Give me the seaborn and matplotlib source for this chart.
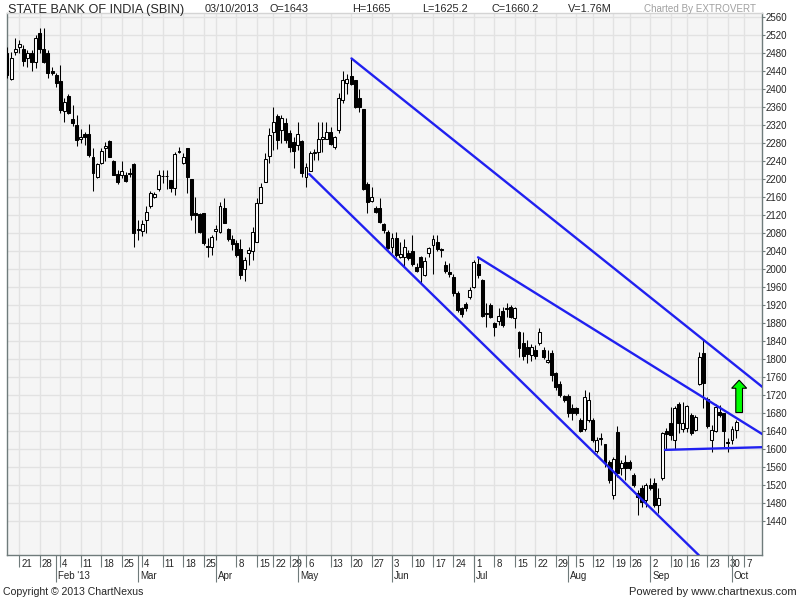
import numpy as np
import pandas as pd
import seaborn as sns
import matplotlib.pyplot as plt
import matplotlib.transforms as mtransforms
from matplotlib.patches import Polygon

# daily candles, SBIN 16 Jan 2013 - 03 Oct 2013
opens = [2479, 2422, 2483, 2494, 2490, 2470, 2481, 2459, 2524, 2490,
         2479, 2439, 2431, 2418, 2352, 2384, 2333, 2320, 2288, 2299,
         2301, 2250, 2205, 2235, 2268, 2284, 2241, 2211, 2209, 2209,
         2214, 2233, 2086, 2085, 2110, 2139, 2161, 2177, 2206, 2207,
         2198, 2179, 2263, 2236, 2268, 2199, 2125, 2122, 2124, 2051,
         2050, 2085, 2082, 2135, 2090, 2066, 2057, 2044, 1999, 2035,
         2039, 2061, 2147, 2194, 2251, 2305, 2340, 2309, 2324, 2302,
         2282, 2276, 2285, 2204, 2218, 2257, 2261, 2288, 2290, 2305,
         2272, 2309, 2376, 2413, 2429, 2419, 2379, 2355, 2190, 2152,
         2135, 2135, 2100, 2083, 2048, 2068, 2027, 2026, 2036, 2039,
         2004, 2027, 1987, 2035, 2053, 2061, 2045, 2009, 1994, 1983,
         1947, 1913, 1922, 1937, 1961, 2011, 1976, 1901, 1920, 1879,
         1885, 1907, 1914, 1916, 1890, 1861, 1836, 1826, 1809, 1821,
         1835, 1820, 1794, 1813, 1768, 1744, 1718, 1718, 1690, 1690,
         1665, 1644, 1664, 1664, 1596, 1623, 1611, 1572, 1498, 1638,
         1557, 1570, 1570, 1542, 1503, 1513, 1487, 1520, 1525, 1476,
         1535, 1639, 1658, 1621, 1699, 1644, 1646, 1676, 1642, 1744,
         1813, 1710, 1620, 1641, 1683, 1679, 1613, 1621, 1643]
highs = [2494, 2483, 2513, 2510, 2498, 2487, 2487, 2520, 2535, 2535,
         2487, 2450, 2435, 2453, 2379, 2389, 2364, 2342, 2311, 2305,
         2322, 2268, 2236, 2268, 2283, 2287, 2242, 2221, 2239, 2216,
         2224, 2236, 2109, 2109, 2139, 2174, 2172, 2220, 2220, 2220,
         2198, 2261, 2272, 2258, 2270, 2199, 2161, 2124, 2125, 2068,
         2076, 2098, 2148, 2157, 2092, 2076, 2064, 2067, 2027, 2050,
         2094, 2157, 2192, 2257, 2313, 2359, 2344, 2342, 2335, 2309,
         2293, 2327, 2287, 2235, 2263, 2266, 2327, 2327, 2327, 2315,
         2296, 2392, 2439, 2433, 2468, 2420, 2401, 2356, 2194, 2183,
         2139, 2157, 2102, 2087, 2081, 2083, 2061, 2066, 2042, 2076,
         2013, 2029, 2027, 2050, 2076, 2076, 2046, 2018, 2013, 1989,
         1950, 1916, 1927, 1961, 2020, 2026, 1977, 1924, 1924, 1883,
         1913, 1916, 1924, 1920, 1916, 1863, 1859, 1842, 1834, 1830,
         1868, 1827, 1820, 1820, 1772, 1750, 1720, 1722, 1701, 1694,
         1668, 1730, 1727, 1668, 1627, 1635, 1612, 1575, 1583, 1650,
         1575, 1587, 1576, 1546, 1509, 1520, 1525, 1535, 1535, 1513,
         1638, 1646, 1694, 1696, 1705, 1705, 1698, 1679, 1676, 1816,
         1844, 1716, 1653, 1701, 1698, 1681, 1624, 1651, 1665]
lows = [2424, 2420, 2476, 2479, 2452, 2450, 2439, 2446, 2481, 2458,
        2424, 2431, 2405, 2346, 2327, 2344, 2318, 2273, 2279, 2275,
        2250, 2174, 2203, 2233, 2239, 2248, 2209, 2190, 2202, 2194,
        2205, 2050, 2064, 2073, 2081, 2135, 2157, 2174, 2192, 2177,
        2172, 2164, 2257, 2234, 2170, 2110, 2079, 2079, 2053, 2026,
        2031, 2064, 2079, 2102, 2063, 2042, 2026, 1977, 1974, 2009,
        2020, 2061, 2146, 2194, 2235, 2264, 2266, 2279, 2279, 2261,
        2224, 2264, 2204, 2183, 2218, 2242, 2242, 2261, 2290, 2276,
        2266, 2303, 2370, 2389, 2409, 2357, 2350, 2176, 2125, 2150,
        2124, 2103, 2079, 2044, 2035, 2027, 2024, 2005, 2020, 2007,
        1994, 1970, 1985, 2027, 1990, 2039, 2027, 1992, 1983, 1939,
        1905, 1894, 1907, 1933, 1957, 1979, 1894, 1872, 1890, 1850,
        1876, 1872, 1894, 1890, 1868, 1805, 1797, 1790, 1795, 1801,
        1831, 1801, 1790, 1750, 1731, 1716, 1705, 1672, 1664, 1675,
        1638, 1641, 1661, 1616, 1590, 1609, 1561, 1524, 1488, 1538,
        1542, 1531, 1553, 1516, 1453, 1472, 1472, 1509, 1472, 1457,
        1531, 1601, 1620, 1601, 1635, 1638, 1638, 1631, 1641, 1742,
        1690, 1646, 1594, 1638, 1672, 1605, 1594, 1612, 1625.2]
closes = [2431, 2468, 2490, 2500, 2463, 2479, 2459, 2513, 2490, 2461,
          2435, 2435, 2413, 2353, 2372, 2347, 2325, 2287, 2294, 2294,
          2253, 2214, 2233, 2262, 2273, 2250, 2210, 2194, 2218, 2196,
          2212, 2079, 2088, 2100, 2127, 2168, 2167, 2208, 2207, 2206,
          2179, 2255, 2261, 2248, 2204, 2120, 2120, 2083, 2057, 2049,
          2072, 2090, 2139, 2103, 2066, 2056, 2031, 1987, 2021, 2042,
          2082, 2147, 2183, 2244, 2298, 2326, 2287, 2335, 2287, 2272,
          2263, 2299, 2213, 2227, 2257, 2259, 2290, 2293, 2305, 2278,
          2293, 2381, 2419, 2422, 2411, 2361, 2361, 2177, 2150, 2161,
          2127, 2105, 2087, 2046, 2068, 2031, 2033, 2048, 2024, 2011,
          1996, 2005, 2018, 2046, 2066, 2044, 2043, 1996, 1989, 1947,
          1909, 1900, 1913, 1953, 2016, 1987, 1896, 1902, 1894, 1872,
          1896, 1876, 1912, 1893, 1913, 1825, 1807, 1811, 1827, 1807,
          1859, 1804, 1798, 1765, 1738, 1720, 1709, 1679, 1681, 1681,
          1641, 1715, 1709, 1620, 1620, 1625, 1568, 1531, 1577, 1546,
          1568, 1557, 1557, 1520, 1494, 1483, 1520, 1513, 1476, 1492,
          1636, 1633, 1631, 1690, 1657, 1658, 1696, 1635, 1672, 1805,
          1746, 1651, 1642, 1694, 1676, 1641, 1615, 1644, 1660.2]

# x axis: trading-day index of week starts and month starts
week_pos = [3, 8, 13, 18, 23, 28, 33, 38, 43, 48, 51, 56, 61, 65, 69, 73,
            79, 84, 89, 94, 99, 104, 109, 114, 119, 124, 129, 134, 139,
            143, 148, 152, 157, 162, 166, 171, 176, 180]
week_labels = ['21', '28', '4', '11', '18', '25', '4', '11', '18', '25', '',
               '8', '15', '22', '29', '6', '13', '20', '27', '3', '10', '17',
               '24', '1', '8', '15', '22', '29', '5', '12', '19', '26', '2',
               '10', '16', '23', '30', '7']
month_pos = [12, 32, 51, 71, 94, 114, 137, 157, 177]
month_labels = ["Feb '13", 'Mar', 'Apr', 'May', 'Jun', 'Jul', 'Aug', 'Sep', 'Oct']
price_ticks = list(range(1440, 2561, 40))

# hand drawn trend lines (start idx, end idx), (start price, end price)
trend_x = [(84.1, 184.4), (73.8, 168.9), (115.0, 184.4), (160.6, 184.4)]
trend_y = [(2468, 1738), (2211, 1364), (2026, 1633), (1598, 1604)]

# green arrow
arrow_x = 178.75
arrow_bottom, arrow_base, arrow_tip = 1681, 1735, 1753
arrow_head, arrow_shaft = 1.83, 0.82

sns.set_theme(style='white')
plt.rcParams['font.family'] = ['Liberation Sans', 'DejaVu Sans']

edge = '#6f7b7b'
fig = plt.figure(figsize=(8, 6), dpi=100)
ax = fig.add_axes([6.5 / 800, 45 / 600, 755.8 / 800, 542.3 / 600])
ax.set_facecolor('#f5f5f5')

df = pd.DataFrame({'o': opens, 'h': highs, 'l': lows, 'c': closes})
df['x'] = np.arange(len(df))
bottom = df[['o', 'c']].min(axis=1)
height = (df['c'] - df['o']).abs()
colors = np.where(df['c'] < df['o'], 'black', 'white')

ax.vlines(df['x'], df['l'], df['h'], color='black', lw=0.75, zorder=3)
ax.bar(df['x'], height, bottom=bottom, width=0.72, color=colors,
       edgecolor='black', linewidth=0.75, zorder=4)

for (x0, x1), (y0, y1) in zip(trend_x, trend_y):
    sns.lineplot(x=[x0, x1], y=[y0, y1], ax=ax, color='#2020f0', lw=1.7,
                 sort=False, estimator=None, zorder=5)

verts = [(arrow_x - arrow_shaft, arrow_bottom), (arrow_x + arrow_shaft, arrow_bottom),
         (arrow_x + arrow_shaft, arrow_base), (arrow_x + arrow_head, arrow_base),
         (arrow_x, arrow_tip), (arrow_x - arrow_head, arrow_base),
         (arrow_x - arrow_shaft, arrow_base)]
ax.add_patch(Polygon(verts, closed=True, facecolor='#00ff00', edgecolor='black',
                     lw=0.8, zorder=6))

ax.set_xlim(-0.12, 184.4)
ax.set_ylim(1364.4, 2569.6)

ax.xaxis.remove_overlapping_locs = False
ax.set_xticks(week_pos, labels=week_labels)
ax.set_xticks(month_pos, labels=month_labels, minor=True)
ax.set_yticks(price_ticks)
ax.yaxis.tick_right()
ax.grid(True, which='major', color='#e2e2e2', lw=1)
ax.set_axisbelow(True)

ax.tick_params(axis='x', which='major', length=8.6, width=0.8, color=edge,
               pad=-5.5, labelsize=7, bottom=True)
ax.tick_params(axis='x', which='minor', length=19.4, width=0.8, color=edge,
               pad=-7.8, labelsize=7, bottom=True)
ax.tick_params(axis='y', length=2, width=0.8, color=edge, pad=0.5,
               labelsize=7, right=True, left=False)

shift = mtransforms.ScaledTranslation(0.02, 0, fig.dpi_scale_trans)
for lab in ax.get_xticklabels(which='both'):
    lab.set_horizontalalignment('left')
    lab.set_transform(lab.get_transform() + shift)

for side in ['left', 'right', 'bottom']:
    ax.spines[side].set_color(edge)
    ax.spines[side].set_linewidth(1)
ax.spines['top'].set_color('#d4d4d4')
ax.spines['top'].set_linewidth(1)

hy = 1 - 9.5 / 600
fig.text(8 / 800, hy, 'STATE BANK OF INDIA (SBIN)', fontsize=9.2, va='center')
header = [(205, '03/10/2013'), (270, 'O=1643'), (352, 'H=1665'),
          (422, 'L=1625.2'), (491, 'C=1660.2'), (568, 'V=1.76M')]
for px, s in header:
    fig.text(px / 800, hy, s, fontsize=7.8, va='center')
fig.text(644 / 800, hy, 'Charted By EXTROVERT', fontsize=7.1, va='center',
         color='#a0a0a0')

fig.text(3 / 800, 1 - 592 / 600, 'Copyright \u00a9 2013 ChartNexus', fontsize=7.6,
         va='center')
fig.text(797 / 800, 1 - 592 / 600, 'Powered by www.chartnexus.com', fontsize=8,
         va='center', ha='right')

fig.savefig('out.png', dpi=100)
